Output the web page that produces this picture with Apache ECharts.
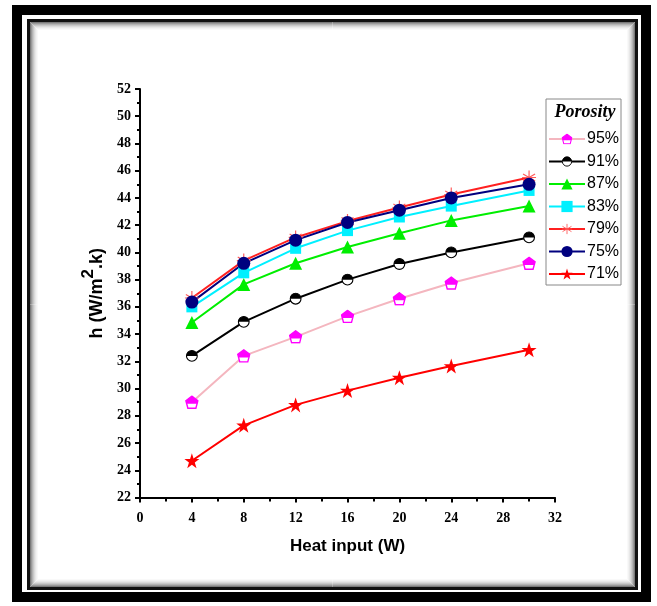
<!DOCTYPE html>
<html><head><meta charset="utf-8">
<script src="https://cdn.jsdelivr.net/npm/echarts@6/dist/echarts.min.js"></script>
<style>html,body{margin:0;padding:0;background:#fff}#c{width:657px;height:606px}</style>
</head><body><div id="c"></div>
<script>
const heatInput = [4, 8, 12, 16, 20, 24, 30];
const seriesNames = ['95%', '91%', '87%', '83%', '79%', '75%', '71%'];
const h95 = [29.0, 32.4, 33.8, 35.3, 36.6, 37.75, 39.2];
const h91 = [32.4, 34.9, 36.6, 38.0, 39.15, 40.0, 41.1];
const h87 = [34.85, 37.65, 39.2, 40.4, 41.4, 42.35, 43.4];
const h83 = [36.0, 38.5, 40.3, 41.6, 42.6, 43.4, 44.55];
const h79 = [36.65, 39.4, 41.1, 42.3, 43.3, 44.25, 45.5];
const h75 = [36.35, 39.2, 40.9, 42.2, 43.1, 44.0, 45.0];
const h71 = [24.7, 27.3, 28.8, 29.85, 30.8, 31.65, 32.85];
const xTicks = {min: 0, max: 32, interval: 4};
const yTicks = {min: 22, max: 52, interval: 2};

function svgSym(s) { return 'image://data:image/svg+xml;charset=utf-8,' + encodeURIComponent(s); }
const symPent = svgSym("<svg xmlns='http://www.w3.org/2000/svg' width='28' height='28' viewBox='0 0 14 14'><polygon points='7,1 13,5.5 11,13 3,13 1,5.5' fill='white' stroke='#ff00ff' stroke-width='1.4'/><polygon points='7,1 13,5.5 12.1,8.6 1.9,8.6 1,5.5' fill='#ff00ff'/></svg>");
const symHalfCircle = svgSym("<svg xmlns='http://www.w3.org/2000/svg' width='28' height='28' viewBox='0 0 14 14'><circle cx='7' cy='7' r='5.8' fill='white' stroke='black' stroke-width='1.2'/><path d='M1.2,7 A5.8,5.8 0 0 1 12.8,7 Z' fill='black'/></svg>");
const symAsterisk = svgSym("<svg xmlns='http://www.w3.org/2000/svg' width='28' height='28' viewBox='0 0 14 14'><g stroke='#ff5a5a' stroke-width='1.1'><line x1='7' y1='0.5' x2='7' y2='13.5'/><line x1='1.4' y1='3.7' x2='12.6' y2='10.3'/><line x1='1.4' y1='10.3' x2='12.6' y2='3.7'/><line x1='0.5' y1='7' x2='13.5' y2='7'/></g></svg>");

const cfg = [
  {name: seriesNames[0], data: h95, color: '#f4b6bf', sym: symPent, size: 14, mcolor: '#ff00ff'},
  {name: seriesNames[1], data: h91, color: '#000000', sym: symHalfCircle, size: 13, mcolor: '#000'},
  {name: seriesNames[2], data: h87, color: '#00ee00', sym: 'triangle', size: 13, mcolor: '#00ee00'},
  {name: seriesNames[3], data: h83, color: '#00f0ff', sym: 'rect', size: 11, mcolor: '#00f0ff'},
  {name: seriesNames[4], data: h79, color: '#ff2020', sym: symAsterisk, size: 15, mcolor: '#ff5a5a'},
  {name: seriesNames[5], data: h75, color: '#00007f', sym: 'circle', size: 13, mcolor: '#00007f'},
  {name: seriesNames[6], data: h71, color: '#ff0000', sym: 'path://M50,0 L61.8,35.3 L99,35.3 L69,57.3 L80.4,93 L50,71 L19.6,93 L31,57.3 L1,35.3 L38.2,35.3 Z', size: 15, mcolor: '#ff0000'}
];

const series = cfg.map(c => ({
  name: c.name, type: 'line',
  data: heatInput.map((x, i) => [x, c.data[i]]),
  symbol: c.sym, symbolSize: c.size, showAllSymbol: true,
  lineStyle: {color: c.color, width: 2},
  itemStyle: {color: c.mcolor},
  animation: false
}));

const graphics = [
  {type: 'rect', shape: {x: 17, y: 10, width: 629, height: 587}, style: {fill: null, stroke: '#000', lineWidth: 10}, silent: true, z: 100},
  {type: 'rect', shape: {x: 28.5, y: 20.5, width: 608, height: 568}, style: {fill: null, stroke: '#111', lineWidth: 3}, silent: true, z: 100}
];
const shades = ['#7a7a7a', '#999', '#b3b3b3', '#c8c8c8', '#dadada', '#e8e8e8', '#f2f2f2', '#f9f9f9'];
shades.forEach((col, i) => {
  graphics.push({type: 'rect', shape: {x: 30.5 + i, y: 22.5 + i, width: 604 - 2 * i, height: 564 - 2 * i}, style: {fill: null, stroke: col, lineWidth: 1}, silent: true, z: 99});
});
graphics.push({type: 'rect', shape: {x: 546, y: 99, width: 75, height: 186}, style: {fill: '#fff', stroke: '#888', lineWidth: 1}, silent: true, z: 1});
graphics.push({type: 'text', style: {x: 585, y: 112, text: 'Porosity', font: 'italic bold 18px "Liberation Serif"', fill: '#000', align: 'center', verticalAlign: 'middle'}, silent: true, z: 5});

const option = {
  backgroundColor: '#fff',
  animation: false,
  graphic: graphics,
  grid: {left: 140, right: 102, top: 89, bottom: 108.5, containLabel: false},
  legend: {
    data: seriesNames, orient: 'vertical', left: 546, top: 131,
    itemWidth: 36, itemHeight: 14, itemGap: 6.5, padding: [0, 0, 0, 2],
    textStyle: {fontFamily: 'Liberation Sans', fontSize: 16, color: '#000', lineHeight: 14, padding: [0, 0, 0, -3]},
    selectedMode: false, z: 10
  },
  xAxis: {
    type: 'value', min: xTicks.min, max: xTicks.max, interval: xTicks.interval,
    name: 'Heat input (W)', nameLocation: 'middle', nameGap: 40,
    nameTextStyle: {fontFamily: 'Liberation Sans', fontWeight: 'bold', fontSize: 17, color: '#000'},
    axisLine: {lineStyle: {color: '#000', width: 2}},
    axisTick: {show: true, length: 5, inside: false, lineStyle: {color: '#000', width: 2}},
    minorTick: {show: true, splitNumber: 2, length: 4, lineStyle: {color: '#000', width: 2}},
    splitLine: {show: false},
    axisLabel: {fontFamily: 'Liberation Serif', fontWeight: 'bold', fontSize: 14, color: '#000', margin: 14}
  },
  yAxis: {
    type: 'value', min: yTicks.min, max: yTicks.max, interval: yTicks.interval,
    name: '{a|h (W/m}{b|2}{a|.k)}', nameLocation: 'middle', nameGap: 34, nameRotate: 90,
    nameTextStyle: {
      rich: {
        a: {fontFamily: 'Liberation Sans', fontWeight: 'bold', fontSize: 18, color: '#000', lineHeight: 26, verticalAlign: 'bottom'},
        b: {fontFamily: 'Liberation Sans', fontWeight: 'bold', fontSize: 17, color: '#000', lineHeight: 26, verticalAlign: 'top'}
      }
    },
    axisLine: {show: true, lineStyle: {color: '#000', width: 2}},
    axisTick: {show: true, length: 5, inside: false, lineStyle: {color: '#000', width: 2}},
    minorTick: {show: true, splitNumber: 2, length: 3, lineStyle: {color: '#000', width: 2}},
    splitLine: {show: false},
    axisLabel: {fontFamily: 'Liberation Serif', fontWeight: 'bold', fontSize: 14, color: '#000', margin: 9}
  },
  series: series
};
const chart = echarts.init(document.getElementById('c'), null, {renderer: 'canvas'});
chart.setOption(option);
</script></body></html>
